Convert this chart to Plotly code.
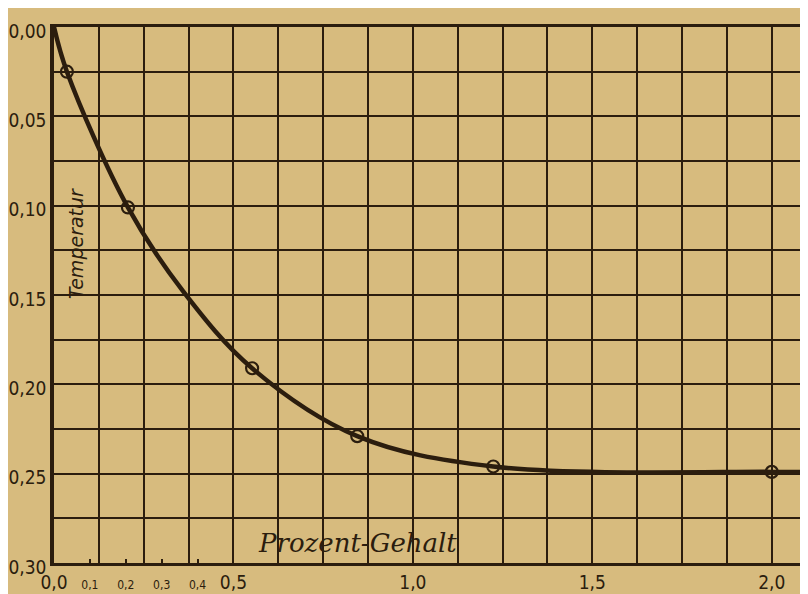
import plotly.graph_objects as go

# values (Prozent-Gehalt vs. Temperatur)
gehalt = [0.0, 0.036, 0.206, 0.36, 0.552, 0.845, 1.224, 2.0, 2.1]
temperatur = [0.0, 0.025, 0.101, 0.148, 0.191, 0.229, 0.246, 0.249, 0.249]

# measured points drawn as small rings
punkt_x = [0.036, 0.206, 0.552, 0.845, 1.224, 2.0]
punkt_y = [0.025, 0.101, 0.191, 0.229, 0.246, 0.249]

x_ticks = [0.0, 0.1, 0.2, 0.3, 0.4, 0.5, 1.0, 1.5, 2.0]
x_labels = ["0,0", "<span style='font-size:12px'>0,1</span>",
            "<span style='font-size:12px'>0,2</span>",
            "<span style='font-size:12px'>0,3</span>",
            "<span style='font-size:12px'>0,4</span>",
            "0,5", "1,0", "1,5", "2,0"]
y_ticks = [0.0, 0.05, 0.10, 0.15, 0.20, 0.25, 0.30]
y_labels = ["0,00", "0,05", "0,10", "0,15", "0,20", "0,25", "0,30"]

ink = "#2b1d0e"
paper = "#d7bb7e"
tick_font = dict(family="Liberation Sans Narrow, DejaVu Sans Condensed, sans-serif",
                 size=19, color=ink)

fig = go.Figure()
fig.add_trace(go.Scatter(x=gehalt, y=temperatur, mode="lines",
                         line=dict(color=ink, width=4.5, shape="spline", smoothing=1.0),
                         hoverinfo="skip", showlegend=False))
fig.add_trace(go.Scatter(x=punkt_x, y=punkt_y, mode="markers",
                         marker=dict(symbol="circle-open", size=12, color=ink,
                                     line=dict(width=2.2, color=ink)),
                         showlegend=False))

# the page body adds an 8px margin, so the figure is 8px smaller than the window
fig.update_layout(
    width=800, height=586,
    paper_bgcolor=paper, plot_bgcolor=paper,
    margin=dict(l=42, r=0, t=19, b=31),
    xaxis=dict(range=[0, 2.101], tickvals=x_ticks, ticktext=x_labels,
               showgrid=False, zeroline=False,
               showline=True, linecolor=ink, linewidth=3, mirror=True,
               ticks="inside", ticklen=4, tickcolor=ink, tickwidth=2,
               tickfont=tick_font,
               minor=dict(tickmode="linear", tick0=0, dtick=0.125,
                          showgrid=True, gridcolor=ink, gridwidth=1.5, ticks="")),
    yaxis=dict(range=[0.30, 0.0], tickvals=y_ticks, ticktext=y_labels,
               showgrid=True, gridcolor=ink, gridwidth=1.5, zeroline=False,
               showline=True, linecolor=ink, linewidth=3.5,
               ticks="", tickfont=tick_font, ticklabelshift=-4,
               minor=dict(tickmode="linear", tick0=0, dtick=0.025,
                          showgrid=True, gridcolor=ink, gridwidth=1.5, ticks="")),
    annotations=[
        dict(text="Prozent-Gehalt", x=0.845, y=0.289, xref="x", yref="y",
             showarrow=False,
             font=dict(family="DejaVu Serif", size=26, color=ink, style="italic")),
        dict(text="Temperatur", x=0.061, y=0.121, xref="x", yref="y",
             showarrow=False, textangle=-90,
             font=dict(family="DejaVu Sans", size=19, color=ink, style="italic")),
    ],
)

fig.write_html("out.html")
